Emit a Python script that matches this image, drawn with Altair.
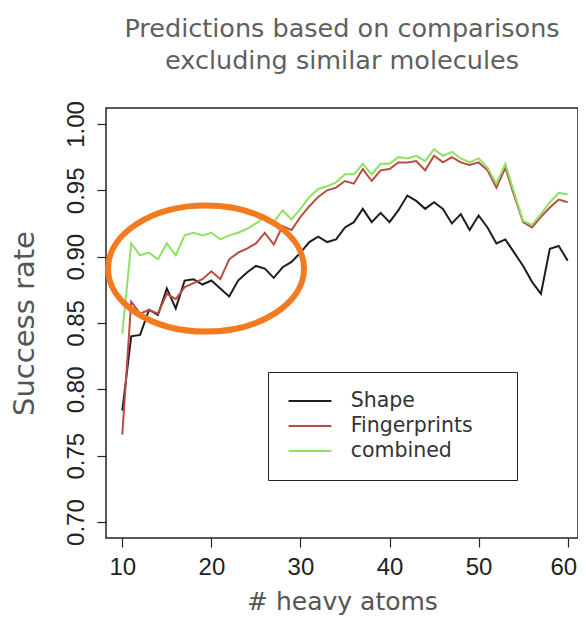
import altair as alt
import pandas as pd

# ---- data ----
heavy_atoms = list(range(10, 61))

shape = [0.784, 0.840, 0.841, 0.860, 0.856, 0.876, 0.861, 0.882, 0.883, 0.879,
         0.882, 0.876, 0.870, 0.882, 0.888, 0.893, 0.891, 0.884, 0.892, 0.896,
         0.903, 0.911, 0.915, 0.911, 0.913, 0.922, 0.926, 0.936, 0.926, 0.933,
         0.926, 0.935, 0.946, 0.942, 0.936, 0.941, 0.936, 0.925, 0.932, 0.920,
         0.931, 0.922, 0.910, 0.913, 0.903, 0.893, 0.881, 0.872, 0.906, 0.908,
         0.897]

fingerprints = [0.766, 0.866, 0.857, 0.860, 0.857, 0.872, 0.868, 0.877, 0.880, 0.883,
                0.889, 0.883, 0.898, 0.903, 0.906, 0.910, 0.918, 0.909, 0.923, 0.920,
                0.930, 0.938, 0.945, 0.950, 0.952, 0.957, 0.955, 0.966, 0.957, 0.965,
                0.966, 0.971, 0.971, 0.972, 0.965, 0.976, 0.971, 0.975, 0.971, 0.969,
                0.971, 0.965, 0.952, 0.967, 0.946, 0.926, 0.922, 0.930, 0.937, 0.943,
                0.941]

combined = [0.842, 0.910, 0.901, 0.903, 0.898, 0.910, 0.901, 0.916, 0.918, 0.916,
            0.918, 0.913, 0.916, 0.918, 0.921, 0.925, 0.930, 0.926, 0.935, 0.928,
            0.936, 0.945, 0.951, 0.953, 0.956, 0.962, 0.962, 0.970, 0.962, 0.970,
            0.970, 0.975, 0.974, 0.976, 0.972, 0.981, 0.976, 0.979, 0.974, 0.971,
            0.974, 0.967, 0.955, 0.970, 0.948, 0.927, 0.924, 0.932, 0.941, 0.948,
            0.947]

series_names = ["Shape", "Fingerprints", "combined"]
series_colors = ["#1e1e1e", "#b94b45", "#8fe064"]

x_ticks = [10, 20, 30, 40, 50, 60]
y_ticks = [0.70, 0.75, 0.80, 0.85, 0.90, 0.95, 1.00]

title_lines = ["Predictions based on comparisons", "excluding similar molecules"]

# highlighted region (annotation ellipse centre, in data units)
highlight_atoms = [19.4]
highlight_rate = [0.891]

# ---- tables ----
rows = []
for name, vals in zip(series_names, [shape, fingerprints, combined]):
    for a, v in zip(heavy_atoms, vals):
        rows.append({"atoms": a, "rate": v, "series": name})
df = pd.DataFrame(rows)
hl = pd.DataFrame({"atoms": highlight_atoms, "rate": highlight_rate})

xscale = alt.Scale(domain=[8.17, 61.16], nice=False, zero=False)
yscale = alt.Scale(domain=[0.688, 1.012], nice=False, zero=False)

PAD = "\u00a0" * 4 + "\u200b"
LEGEND_STROKE = "M -2.2 0 L 2.2 0"

lines = alt.Chart(df).mark_line(strokeWidth=2).encode(
    x=alt.X("atoms:Q", scale=xscale,
            axis=alt.Axis(values=x_ticks, title="# heavy atoms",
                          labelFont="Liberation Sans", labelFontSize=24, labelColor="#222",
                          labelPadding=8, tickSize=9, tickWidth=1.2, tickColor="#222",
                          domain=False, grid=False, labelOverlap=False,
                          labelFlush=11, labelFlushOffset=9,
                          titleFont="DejaVu Sans", titleFontSize=25, titleFontWeight="normal",
                          titleColor="#555", titlePadding=10)),
    y=alt.Y("rate:Q", scale=yscale,
            axis=alt.Axis(values=y_ticks, format=".2f", title="Success rate",
                          labelAngle=270, labelAlign="center", labelBaseline="bottom",
                          labelFont="Liberation Sans", labelFontSize=24, labelColor="#222",
                          labelPadding=9, tickSize=9, tickWidth=1.2, tickColor="#222",
                          domain=False, grid=False, labelOverlap=False, labelFlush=False,
                          titleFont="DejaVu Sans", titleFontSize=29, titleFontWeight="normal",
                          titleColor="#555", titlePadding=25)),
    color=alt.Color("series:N",
                    scale=alt.Scale(domain=series_names, range=series_colors),
                    legend=alt.Legend(title=None, orient="none", legendX=162, legendY=264,
                                      strokeColor="#222", padding=18,
                                      symbolType=LEGEND_STROKE, symbolSize=381,
                                      symbolStrokeWidth=2, symbolOffset=13, labelOffset=29.75,
                                      labelFont="DejaVu Sans", labelFontSize=20.5,
                                      labelColor="#333", rowPadding=3, labelLimit=400,
                                      labelExpr="datum.label + '" + PAD + "'")),
)

ELLIPSE = "M -1 0 A 1 0.643 0 1 1 1 0 A 1 0.643 0 1 1 -1 0 Z"
ring = alt.Chart(hl).mark_point(shape=ELLIPSE, size=38416, filled=False,
                                stroke="#f47a20", strokeWidth=6, opacity=1).encode(
    x=alt.X("atoms:Q", scale=xscale),
    y=alt.Y("rate:Q", scale=yscale),
)

chart = alt.layer(lines, ring).properties(
    width=472, height=430,
    padding={"left": 98, "top": 100, "right": 0, "bottom": 78},
    autosize=alt.AutoSizeParams(type="none"),
    title=alt.TitleParams(text=title_lines, font="DejaVu Sans", fontSize=25.5,
                          fontWeight="normal", color="#5f5f5f", lineHeight=32,
                          anchor="middle", offset=26),
    background="white",
).configure_view(stroke="#222", strokeWidth=1.5)

chart.save("out.html", embed_options={"renderer": "svg", "actions": False})
